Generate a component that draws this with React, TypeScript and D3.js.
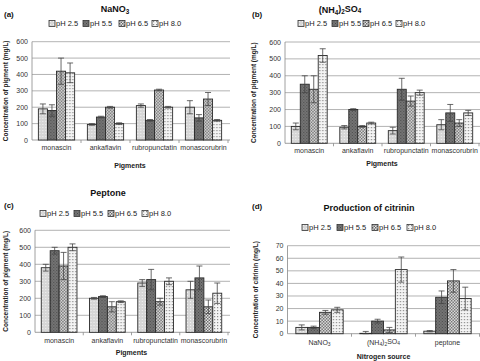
import * as d3 from "d3"

const phLabels = ["pH 2.5", "pH 5.5", "pH 6.5", "pH 8.0"]
const pigments = ["monascin", "ankaflavin", "rubropunctatin", "monascorubrin"]
const sources = ["NaNO3", "(NH4)2SO4", "peptone"]

// values per category, one per pH
const nano3Values = [[190, 180, 420, 410], [95, 140, 200, 100], [210, 120, 305, 200], [200, 135, 250, 120]]
const nano3Errors = [[30, 35, 80, 60], [5, 5, 5, 5], [10, 5, 5, 5], [40, 20, 40, 5]]
const nh4Values = [[100, 350, 320, 520], [95, 200, 100, 120], [75, 320, 250, 300], [110, 180, 120, 180]]
const nh4Errors = [[20, 50, 80, 40], [10, 5, 5, 5], [20, 65, 30, 15], [30, 50, 20, 15]]
const peptoneValues = [[380, 480, 390, 500], [200, 210, 150, 180], [290, 310, 180, 300], [250, 320, 150, 230]]
const peptoneErrors = [[20, 20, 80, 20], [5, 5, 30, 5], [20, 60, 20, 20], [50, 70, 40, 60]]
const citrininValues = [[5, 5, 17, 19], [0.3, 10, 3, 51], [2, 29, 42, 28]]
const citrininErrors = [[2, 1, 1.5, 2], [1.5, 1.5, 2, 10], [0.5, 5, 9, 9]]

const pigmentTicks = [0, 100, 200, 300, 400, 500, 600]
const citrininTicks = [0, 10, 20, 30, 40, 50, 60, 70]

const fills = ["url(#p25)", "url(#p55)", "url(#p65)", "url(#p80)"]
const font = "Liberation Sans, Arial, sans-serif"

// renders names like NaNO3 / (NH4)2SO4 with subscripts
function Chem({ s }: { s: string }) {
  const parts = s.split(/(\d+)/).filter((p) => p !== "")
  return (
    <>
      {parts.map((p, i) =>
        /^\d+$/.test(p) ? (
          <tspan key={i} fontSize="0.7em" dy="0.25em">{p}</tspan>
        ) : (
          <tspan key={i} dy={i > 0 && /^\d+$/.test(parts[i - 1]) ? "-0.25em" : 0}>{p}</tspan>
        )
      )}
    </>
  )
}

interface PanelProps {
  tag: string
  title: string
  titleX: number
  titleY: number
  tagX: number
  tagY: number
  legendX: number[]
  legendY: number
  categories: string[]
  values: number[][]
  errors: number[][]
  ticks: number[]
  x0: number
  x1: number
  yTop: number
  yBottom: number
  yLabel: string
  yLabelX: number
  xLabel: string
  xLabelY: number
  catY: number
  chemCats?: boolean
}

function Panel(p: PanelProps) {
  const y = d3.scaleLinear().domain([0, p.ticks[p.ticks.length - 1]]).range([p.yBottom, p.yTop])
  const x = d3.scaleBand().domain(p.categories).range([p.x0, p.x1]).paddingInner(0.26).paddingOuter(0.13)
  const inner = d3.scaleBand().domain(phLabels).range([0, x.bandwidth()])
  const bands = d3.scaleBand().domain(p.categories).range([p.x0, p.x1])
  return (
    <g fontFamily={font}>
      <text x={p.tagX} y={p.tagY} fontSize={8} fontWeight="bold" fill="#111">{p.tag}</text>
      <text x={p.titleX} y={p.titleY} fontSize={9} fontWeight="bold" textAnchor="middle" fill="#111">
        <Chem s={p.title} />
      </text>
      {phLabels.map((l, i) => (
        <g key={l} transform={`translate(${p.legendX[i]},${p.legendY})`}>
          <rect x={0} y={-5.5} width={6} height={6} fill={fills[i]} stroke="#333" strokeWidth={0.8} />
          <text x={7} y={0} fontSize={7.5} fill="#222">{l}</text>
        </g>
      ))}
      {p.ticks.map((t) => (
        <g key={t}>
          {t > 0 && <line x1={p.x0} x2={p.x1 + 2} y1={y(t)} y2={y(t)} stroke="#a0a0a0" strokeWidth={0.8} />}
          <text x={p.x0 - 4} y={y(t) + 2.5} fontSize={7} textAnchor="end" fill="#333">{t}</text>
        </g>
      ))}
      <line x1={p.x0} x2={p.x0} y1={p.yTop} y2={p.yBottom} stroke="#888" strokeWidth={0.8} />
      <line x1={p.x0} x2={p.x1 + 2} y1={p.yBottom} y2={p.yBottom} stroke="#888" strokeWidth={0.8} />
      {p.categories.map((c, ci) => (
        <line key={c} x1={(bands(c) ?? 0) + bands.bandwidth()} x2={(bands(c) ?? 0) + bands.bandwidth()}
          y1={p.yBottom} y2={p.yBottom + 3} stroke="#888" strokeWidth={0.8} />
      ))}
      {p.categories.map((c, ci) => (
        <g key={c} transform={`translate(${x(c)},0)`}>
          {p.values[ci].map((v, i) => {
            const bx = inner(phLabels[i]) ?? 0
            const cx = bx + inner.bandwidth() / 2
            const e = p.errors[ci][i]
            return (
              <g key={i}>
                <rect x={bx} y={y(v)} width={inner.bandwidth()} height={p.yBottom - y(v)}
                  fill={fills[i]} stroke="#2a2a2a" strokeWidth={0.9} />
                <line x1={cx} x2={cx} y1={y(v + e)} y2={y(Math.max(0, v - e))} stroke="#444" strokeWidth={0.8} />
                <line x1={cx - 3} x2={cx + 3} y1={y(v + e)} y2={y(v + e)} stroke="#444" strokeWidth={0.8} />
                <line x1={cx - 3} x2={cx + 3} y1={y(Math.max(0, v - e))} y2={y(Math.max(0, v - e))} stroke="#444" strokeWidth={0.8} />
              </g>
            )
          })}
          <text x={x.bandwidth() / 2} y={p.catY} fontSize={7} textAnchor="middle" fill="#333">
            {p.chemCats ? <Chem s={c} /> : c}
          </text>
        </g>
      ))}
      <text x={(p.x0 + p.x1) / 2} y={p.xLabelY} fontSize={7} fontWeight="bold" textAnchor="middle" fill="#222">{p.xLabel}</text>
      <text transform={`translate(${p.yLabelX},${(p.yTop + p.yBottom) / 2}) rotate(-90)`} fontSize={6.5}
        fontWeight="bold" textAnchor="middle" fill="#222">{p.yLabel}</text>
    </g>
  )
}

export default function App() {
  return (
    <svg width={480} height={361} style={{ position: "absolute", left: 0, top: 0, background: "#fff" }}>
      <defs>
        <pattern id="p25" width={3} height={3} patternUnits="userSpaceOnUse">
          <rect width={3} height={3} fill="#d6d6d6" />
          <rect x={1} y={1} width={1} height={1} fill="#f2f2f2" />
        </pattern>
        <pattern id="p55" width={3} height={3} patternUnits="userSpaceOnUse">
          <rect width={3} height={3} fill="#757575" />
          <rect x={0} y={0} width={1} height={1} fill="#4a4a4a" />
          <rect x={1.5} y={1.5} width={1} height={1} fill="#4a4a4a" />
        </pattern>
        <pattern id="p65" width={3} height={3} patternUnits="userSpaceOnUse">
          <rect width={3} height={3} fill="#e8e8e8" />
          <rect x={0} y={0} width={1.5} height={1.5} fill="#6a6a6a" />
          <rect x={1.5} y={1.5} width={1.5} height={1.5} fill="#6a6a6a" />
        </pattern>
        <pattern id="p80" width={3} height={3} patternUnits="userSpaceOnUse">
          <rect width={3} height={3} fill="#f4f4f4" />
          <rect x={1} y={1} width={1.2} height={1.2} fill="#8a8a8a" />
        </pattern>
      </defs>
      <Panel tag="(a)" title="NaNO3" titleX={115} titleY={12} tagX={4} tagY={17}
        legendX={[49, 83, 119, 152]} legendY={26} categories={pigments} values={nano3Values} errors={nano3Errors}
        ticks={pigmentTicks} x0={32} x1={228} yTop={41.7} yBottom={140} yLabel="Concentration of pigment (mg/L)"
        yLabelX={8} xLabel="Pigments" xLabelY={168} catY={150} />
      <Panel tag="(b)" title="(NH4)2SO4" titleX={340} titleY={13} tagX={252} tagY={17}
        legendX={[298, 332, 363, 396]} legendY={26} categories={pigments} values={nh4Values} errors={nh4Errors}
        ticks={pigmentTicks} x0={285} x1={479} yTop={42} yBottom={143.3} yLabel="Concentration of pigment (mg/L)"
        yLabelX={256} xLabel="Pigments" xLabelY={166} catY={153} />
      <Panel tag="(c)" title="Peptone" titleX={108} titleY={196} tagX={4} tagY={208}
        legendX={[40, 74, 108, 142]} legendY={216} categories={pigments} values={peptoneValues} errors={peptoneErrors}
        ticks={pigmentTicks} x0={35} x1={228} yTop={230.3} yBottom={332.3} yLabel="Concentration of pigment (mg/L)"
        yLabelX={8} xLabel="Pigments" xLabelY={355} catY={343} />
      <Panel tag="(d)" title="Production of citrinin" titleX={369} titleY={211} tagX={252} tagY={209}
        legendX={[302, 337, 372, 407]} legendY={230} categories={sources} values={citrininValues} errors={citrininErrors}
        ticks={citrininTicks} x0={287.5} x1={479.5} yTop={245.7} yBottom={333.7} yLabel="Concentration of citrinin (mg/L)"
        yLabelX={258} xLabel="Nitrogen source" xLabelY={359} catY={345} chemCats />
    </svg>
  )
}
